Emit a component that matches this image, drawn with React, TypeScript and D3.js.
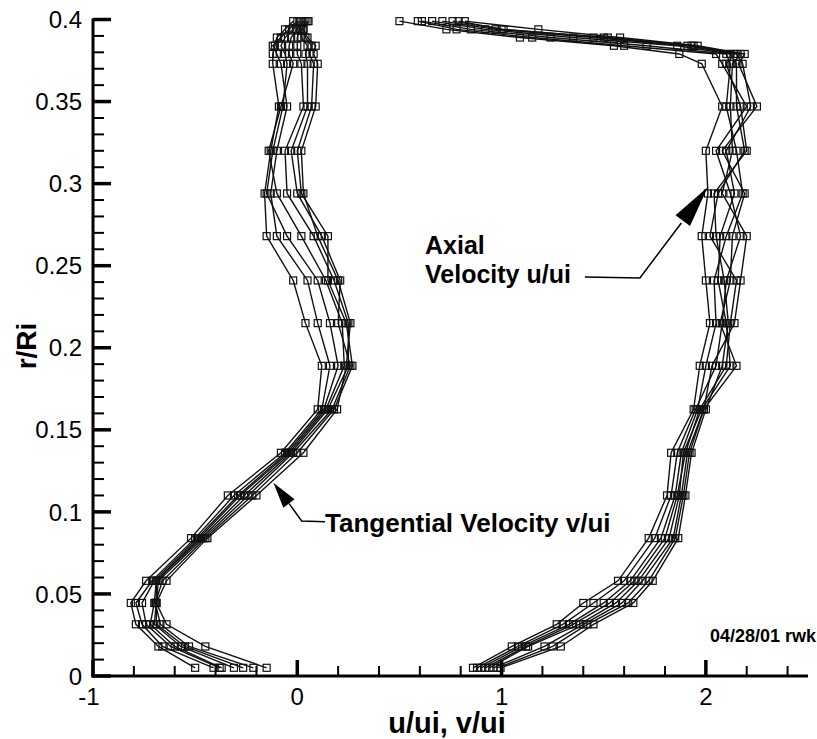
import React from 'react';
import * as d3 from 'd3';

// radial stations r/Ri shared by all profiles
const rLevels = [0.005, 0.018, 0.0315, 0.0445, 0.058, 0.084, 0.110, 0.136, 0.1625, 0.189, 0.215,
  0.241, 0.268, 0.294, 0.320, 0.347, 0.373, 0.379, 0.384, 0.389, 0.394, 0.399];

// tangential velocity v/ui, one array per profile
const tangential = [
  [-0.50, -0.68, -0.79, -0.815, -0.74, -0.52, -0.34, -0.08, 0.10, 0.12, 0.04, -0.02, -0.15, -0.16, -0.13, -0.09, -0.12, -0.12, -0.11, -0.10, -0.06, -0.02],
  [-0.41, -0.66, -0.76, -0.79, -0.71, -0.50, -0.31, -0.06, 0.12, 0.16, 0.10, 0.05, -0.10, -0.13, -0.10, -0.05, -0.08, -0.10, -0.12, -0.08, -0.04, 0.00],
  [-0.38, -0.62, -0.74, -0.76, -0.70, -0.49, -0.29, -0.05, 0.13, 0.20, 0.16, 0.10, -0.05, -0.15, -0.12, -0.07, -0.05, -0.06, -0.08, -0.06, -0.02, 0.01],
  [-0.37, -0.60, -0.72, -0.70, -0.69, -0.48, -0.28, -0.04, 0.14, 0.23, 0.22, 0.14, 0.02, -0.10, -0.14, -0.08, -0.02, -0.04, -0.04, -0.03, 0.00, 0.02],
  [-0.31, -0.57, -0.70, -0.69, -0.69, -0.47, -0.26, -0.03, 0.15, 0.25, 0.25, 0.18, 0.08, -0.05, -0.06, 0.03, 0.02, 0.00, 0.00, 0.00, 0.01, 0.03],
  [-0.265, -0.55, -0.69, -0.69, -0.68, -0.46, -0.24, -0.02, 0.17, 0.26, 0.20, 0.21, 0.12, 0.00, -0.03, 0.05, 0.05, 0.04, 0.05, 0.02, 0.02, 0.04],
  [-0.215, -0.53, -0.67, -0.695, -0.66, -0.45, -0.22, 0.00, 0.18, 0.27, 0.24, 0.15, 0.15, 0.02, 0.00, 0.07, 0.08, 0.06, 0.07, 0.04, 0.03, 0.05],
  [-0.15, -0.45, -0.64, -0.69, -0.64, -0.44, -0.20, 0.03, 0.195, 0.24, 0.26, 0.20, 0.10, 0.03, 0.02, 0.09, 0.10, 0.08, 0.09, 0.05, 0.03, 0.055],
];

// axial velocity u/ui, one array per profile
const axial = [
  [0.86, 1.05, 1.27, 1.40, 1.57, 1.72, 1.81, 1.83, 1.94, 1.97, 2.02, 2.00, 1.98, 2.01, 2.00, 2.08, 1.98, 1.87, 1.55, 1.09, 0.73, 0.50],
  [0.88, 1.08, 1.30, 1.45, 1.60, 1.75, 1.83, 1.86, 1.95, 2.05, 2.08, 2.10, 2.17, 2.12, 2.05, 2.20, 2.08, 2.05, 1.60, 1.15, 0.78, 0.59],
  [0.90, 1.10, 1.33, 1.50, 1.63, 1.78, 1.85, 1.88, 1.96, 2.00, 2.05, 2.04, 2.10, 2.18, 2.15, 2.10, 2.12, 2.10, 1.71, 1.24, 0.85, 0.61],
  [0.92, 1.12, 1.35, 1.53, 1.65, 1.80, 1.86, 1.90, 1.97, 2.10, 2.12, 2.15, 2.02, 2.06, 2.19, 2.15, 2.15, 2.12, 1.86, 1.35, 0.92, 0.66],
  [0.94, 1.13, 1.38, 1.56, 1.67, 1.82, 1.87, 1.89, 1.98, 2.12, 2.10, 2.06, 2.07, 2.14, 2.10, 2.22, 2.18, 2.15, 1.91, 1.45, 0.97, 0.71],
  [0.96, 1.21, 1.40, 1.59, 1.69, 1.84, 1.88, 1.91, 1.99, 2.03, 2.14, 2.17, 2.20, 2.08, 2.13, 2.12, 2.13, 2.17, 1.94, 1.52, 1.00, 0.76],
  [0.98, 1.25, 1.42, 1.62, 1.72, 1.85, 1.89, 1.92, 1.99, 2.15, 2.07, 2.12, 2.13, 2.19, 2.08, 2.25, 2.16, 2.19, 1.96, 1.58, 1.18, 0.82],
  [0.995, 1.29, 1.45, 1.645, 1.74, 1.865, 1.90, 1.93, 2.00, 2.08, 2.11, 2.09, 2.05, 2.04, 2.20, 2.17, 2.10, 2.14, 1.93, 1.50, 1.01, 0.79],
];

const xMajor = [-1, 0, 1, 2];
const yMajor = [0, 0.05, 0.1, 0.15, 0.2, 0.25, 0.3, 0.35, 0.4];
const yLabels = ['0', '0.05', '0.1', '0.15', '0.2', '0.25', '0.3', '0.35', '0.4'];

const W = 817;
const H = 739;
const FONT = '"Liberation Sans", Arial, Helvetica, sans-serif';

const x = d3.scaleLinear().domain([-1, 2.5]).range([93, 808]);
const y = d3.scaleLinear().domain([0, 0.4]).range([676, 19.5]);

const line = d3.line<[number, number]>()
  .x(d => x(d[0]))
  .y(d => y(d[1]));

function arrowHead(from: [number, number], tip: [number, number], len: number, half: number) {
  const dx = tip[0] - from[0];
  const dy = tip[1] - from[1];
  const n = Math.hypot(dx, dy);
  const ux = dx / n, uy = dy / n;
  const bx = tip[0] - ux * len, by = tip[1] - uy * len;
  return `M${tip[0]},${tip[1]}L${bx - uy * half},${by + ux * half}L${bx + uy * half},${by - ux * half}Z`;
}

function Profile({ values }: { values: number[] }) {
  const pts: [number, number][] = values.map((v, i) => [v, rLevels[i]]);
  return (
    <g>
      <path d={line(pts) || ''} fill="none" stroke="#111" strokeWidth={1.4} />
      {pts.map((p, i) => (
        <rect key={i} x={x(p[0]) - 3.5} y={y(p[1]) - 3.5} width={7} height={7}
          fill="none" stroke="#111" strokeWidth={1.2} />
      ))}
    </g>
  );
}

export default function App() {
  const xMinor = d3.range(-1, 2.5001, 0.2).filter(v => Math.abs(v - Math.round(v)) > 1e-6);
  const yMinor = d3.range(0, 0.4001, 0.01).filter(v => Math.abs(v / 0.05 - Math.round(v / 0.05)) > 1e-6);

  // annotation arrows in data units
  const axPts: [number, number][] = [[1.408, 0.2431], [1.677, 0.2425], [1.88, 0.276]];
  const axTip: [number, number] = [2.010, 0.298];
  const tgPts: [number, number][] = [[0.136, 0.094], [0.0215, 0.0945], [-0.04, 0.105]];
  const tgTip: [number, number] = [-0.117, 0.1178];
  const px = (p: [number, number]): [number, number] => [x(p[0]), y(p[1])];

  return (
    <svg width={W} height={H} style={{ position: 'absolute', left: 0, top: 0, background: '#fff' }}
      fontFamily={FONT}>
      <rect width={W} height={H} fill="#fff" />

      {tangential.map((s, i) => <Profile key={'t' + i} values={s} />)}
      {axial.map((s, i) => <Profile key={'a' + i} values={s} />)}

      {/* axes */}
      <line x1={x(-1)} x2={x(-1)} y1={y(0.4) - 1} y2={y(0) + 1.5} stroke="#000" strokeWidth={3} />
      <line x1={x(-1) - 1.5} x2={x(2.5)} y1={y(0)} y2={y(0)} stroke="#000" strokeWidth={3} />
      {yMajor.map((v, i) => (
        <g key={'ym' + i}>
          <line x1={x(-1)} x2={x(-1) + 18} y1={y(v)} y2={y(v)} stroke="#000" strokeWidth={3.5} />
          <text x={82} y={y(v)} dy="0.36em" textAnchor="end" fontSize={24}>{yLabels[i]}</text>
        </g>
      ))}
      {yMinor.map((v, i) => (
        <line key={'yn' + i} x1={x(-1)} x2={x(-1) + 11} y1={y(v)} y2={y(v)} stroke="#000" strokeWidth={2} />
      ))}
      {xMajor.map((v, i) => (
        <g key={'xm' + i}>
          <line x1={x(v)} x2={x(v)} y1={y(0)} y2={y(0) - 16} stroke="#000" strokeWidth={3.5} />
          <text x={x(v) - (v < 0 ? 4 : 0)} y={705} textAnchor="middle" fontSize={24}>{v < 0 ? '-' + Math.abs(v) : v}</text>
        </g>
      ))}
      {xMinor.map((v, i) => (
        <line key={'xn' + i} x1={x(v)} x2={x(v)} y1={y(0)} y2={y(0) - 10} stroke="#000" strokeWidth={2} />
      ))}

      {/* axis titles */}
      <text x={447} y={733} textAnchor="middle" fontSize={29} fontWeight="bold">u/ui, v/ui</text>
      <text transform="translate(36,346) rotate(-90)" textAnchor="middle" fontSize={28} fontWeight="bold">r/Ri</text>

      {/* annotations */}
      <text x={425} y={254} fontSize={25} fontWeight="bold">Axial</text>
      <text x={425} y={283} fontSize={25} fontWeight="bold">Velocity u/ui</text>
      <path d={d3.line()(axPts.map(px)) || ''} fill="none" stroke="#000" strokeWidth={1.5} />
      <path d={arrowHead(px(axPts[1]), px(axTip), 42, 9)} fill="#000" />

      <text x={325} y={532} fontSize={26} fontWeight="bold">Tangential Velocity v/ui</text>
      <path d={d3.line()(tgPts.map(px)) || ''} fill="none" stroke="#000" strokeWidth={1.5} />
      <path d={arrowHead(px(tgPts[2]), px(tgTip), 26, 7)} fill="#000" />

      <text x={816} y={642} textAnchor="end" fontSize={18} fontWeight="bold">04/28/01 rwk</text>
    </svg>
  );
}
